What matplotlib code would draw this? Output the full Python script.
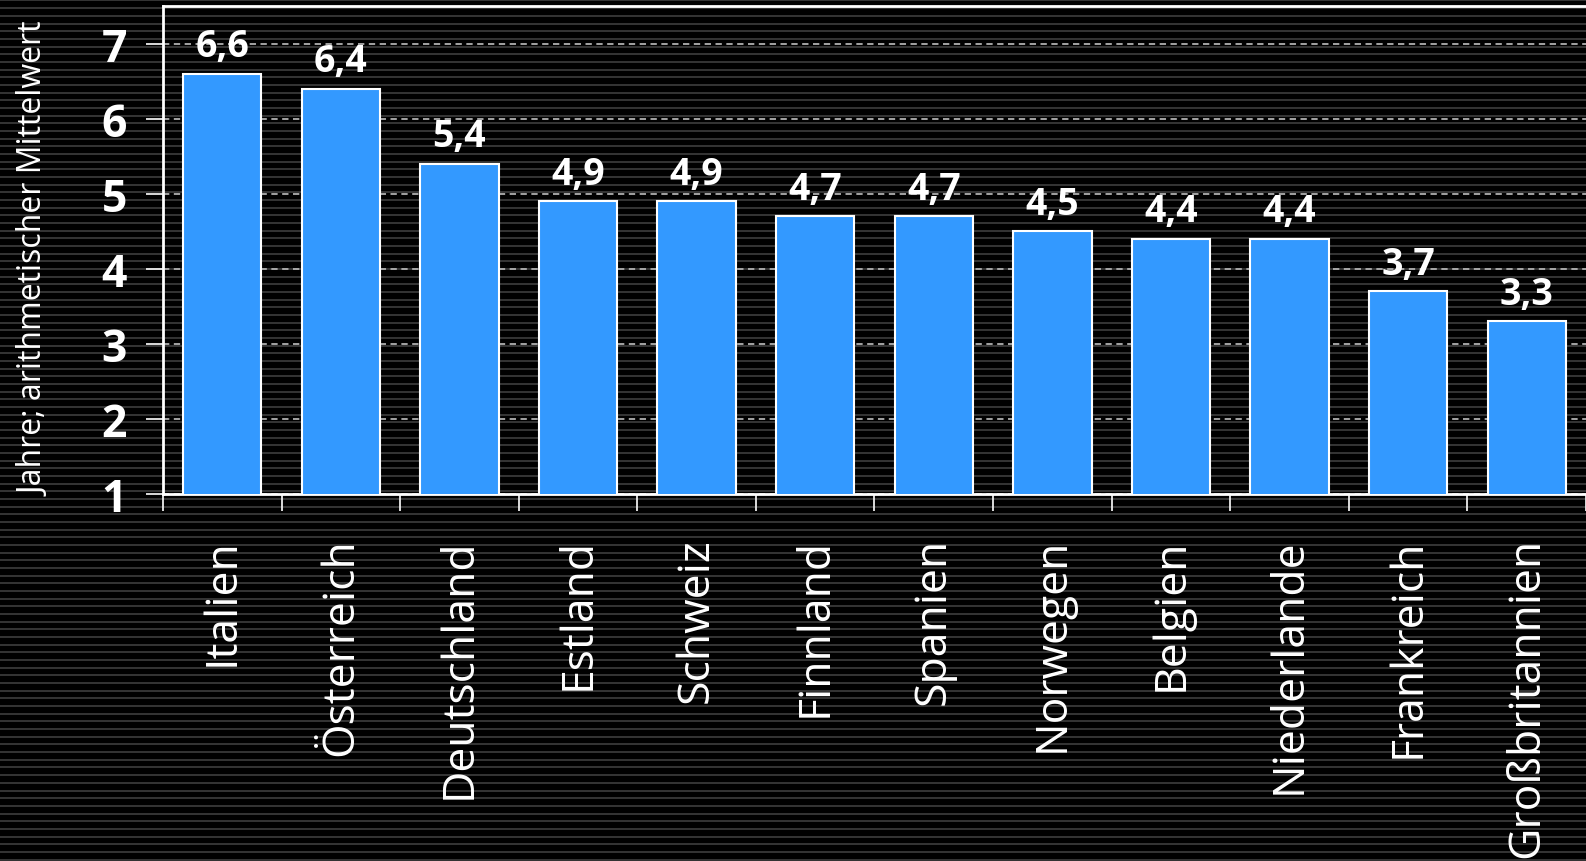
import numpy as np
import matplotlib
matplotlib.use("Agg")
import matplotlib.pyplot as plt

countries = ["Italien", "Österreich", "Deutschland", "Estland", "Schweiz", "Finnland",
             "Spanien", "Norwegen", "Belgien", "Niederlande", "Frankreich", "Großbritannien"]
values = [6.6, 6.4, 5.4, 4.9, 4.9, 4.7, 4.7, 4.5, 4.4, 4.4, 3.7, 3.3]
y_ticks = [1, 2, 3, 4, 5, 6, 7]
y_label = "Jahre; arithmetischer Mittelwert"

plt.rcParams["font.family"] = ["Open Sans", "DejaVu Sans"]

W, H = 1586, 862
fig = plt.figure(figsize=(W / 100, H / 100), dpi=100)
fig.patch.set_facecolor("black")

# pinstripe background
bg = fig.add_axes([0, 0, 1, 1], zorder=-10)
rows = np.arange(H)
stripe = ((rows % 7.67) < 2.0).astype(float)
bg.imshow(np.tile(stripe[:, None], (1, 4)), aspect="auto", cmap="gray",
          vmin=0, vmax=1 / 0.2, extent=[0, 1, 0, 1], interpolation="nearest")
bg.axis("off")

left, top, bottom = 163, 7, 495
ax = fig.add_axes([left / W, 1 - bottom / H, (W - left) / W, (bottom - top) / H])
ax.patch.set_alpha(0)

x = np.arange(len(countries))
ax.bar(x, values, width=0.66, bottom=0, color="#3399FF",
       edgecolor="white", linewidth=1.5, zorder=3)

for xi, v in zip(x, values):
    ax.annotate(f"{v:.1f}".replace(".", ","), (xi, v), xytext=(0, 6),
                textcoords="offset points", ha="center", va="bottom",
                color="white", fontsize=27, fontweight="bold")

ax.set_ylim(1, 7.5)
ax.set_xlim(-0.5, 11.39)
ax.set_yticks(y_ticks)
ax.set_yticklabels([str(t) for t in y_ticks], fontsize=32, fontweight="bold", color="white")
ax.yaxis.grid(True, color="#b0b0b0", linestyle=(0, (3.5, 2.5)), linewidth=1.3, zorder=1)
ax.set_axisbelow(True)

ax.set_xticks(x)
ax.set_xticklabels(countries, rotation=90, fontsize=32, color="white", va="top")
ax.set_xticks(np.arange(-0.5, len(countries), 1), minor=True)
ax.tick_params(axis="x", which="major", length=0, pad=31)
ax.tick_params(axis="x", which="minor", length=12, color="white", width=1.2)
ax.tick_params(axis="y", length=12, color="white", width=1.2, pad=14)

for side in ["left", "top", "bottom"]:
    ax.spines[side].set_color("white")
    ax.spines[side].set_linewidth(2)
ax.spines["right"].set_visible(False)

fig.text(35 / W, 1 - 259 / H, y_label, rotation=90, ha="center", va="center",
         color="white", fontsize=23)

fig.savefig("out.png", dpi=100, facecolor="black")
